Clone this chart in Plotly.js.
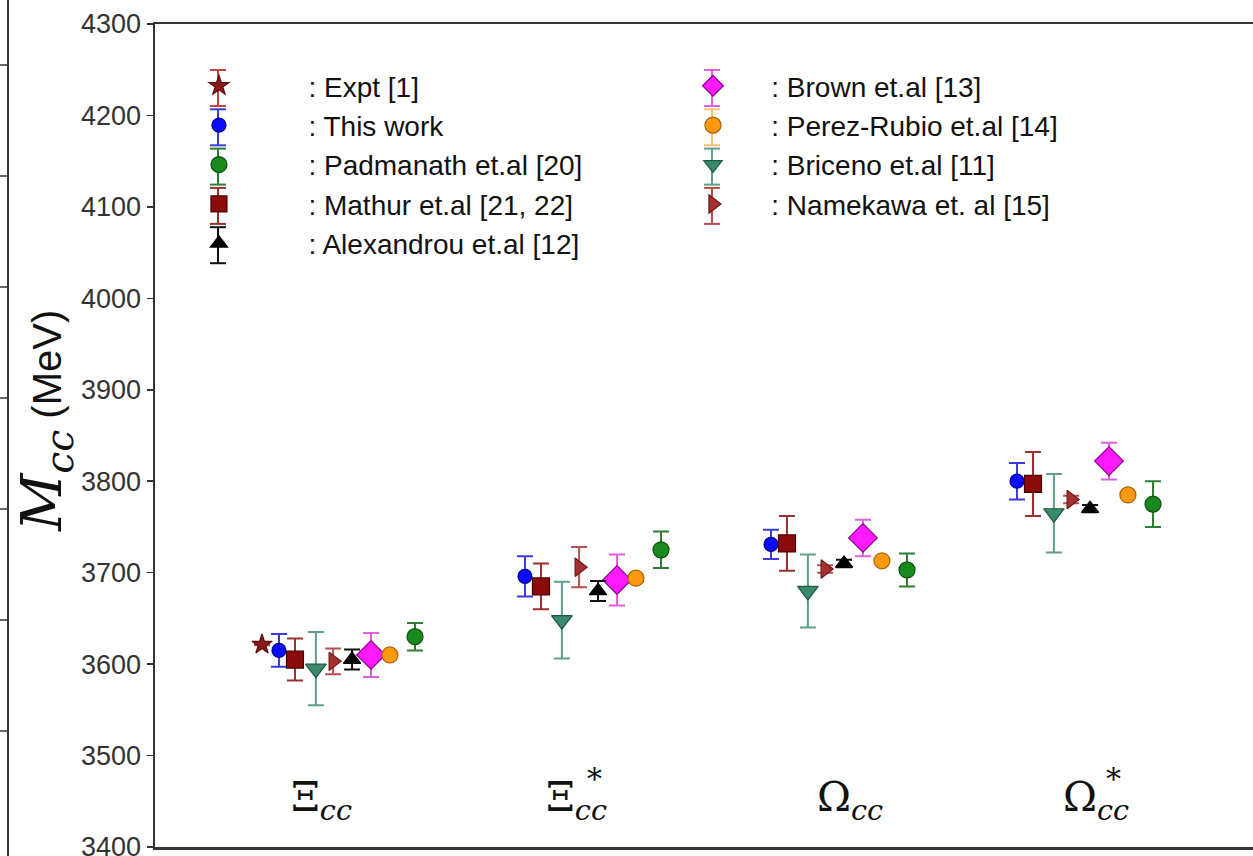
<!DOCTYPE html>
<html>
<head>
<meta charset="utf-8">
<script src="https://cdn.plot.ly/plotly-3.0.1.min.js"></script>
<style>
html, body { margin:0; padding:0; overflow:hidden; background:#fff; }
#chart { width:1259px; height:856px; }
</style>
</head>
<body>
<div id="chart"></div>
<script>
// Groups (baryons) and their tick-label positions
var groupIndex = [0, 1, 2, 3];
var groupBase = ['\u039E', '\u039E', '\u03A9', '\u03A9'];
var groupStar = [false, true, false, true];
var labelPos = [0.675, 1.715, 2.825, 3.825];

// Masses (MeV) and errors for each work
var exptVal = [3621.4];            var exptErr = [0.8];
var thisWorkVal = [3615, 3696, 3731, 3800];   var thisWorkErr = [18, 22, 16, 20];
var padmanathVal = [3630, 3725, 3703, 3775];  var padmanathErr = [15, 20, 18, 25];
var mathurVal = [3605, 3685, 3732, 3797];     var mathurErr = [23, 25, 30, 35];
var alexandrouVal = [3605, 3680, 3710, 3770]; var alexandrouErr = [11, 11, 4, 4];
var brownVal = [3610, 3692, 3738, 3822];      var brownErr = [24, 28, 20, 20];
var perezVal = [3610, 3694, 3713, 3785];      var perezErr = [2, 2, 2, 2];
var bricenoVal = [3595, 3648, 3680, 3765];    var bricenoErr = [40, 42, 40, 43];
var namekawaVal = [3603, 3706, 3704, 3780];   var namekawaErr = [14, 22, 4, 4];

function xs(idx, off) { return idx.map(function (g) { return g + off; }); }
var PAD1 = '\u00A0\u00A0\u00A0\u00A0\u00A0\u00A0\u00A0';
var PAD2 = '\u00A0\u00A0\u00A0';

function series(name, pad, idx, off, vals, errs, symbol, size, fill, edge, ecol) {
  return {
    type: 'scatter', mode: 'markers', name: pad + name,
    x: xs(idx, off), y: vals,
    marker: { symbol: symbol, size: size, color: fill, line: { color: edge, width: 1.2 } },
    error_y: { type: 'data', array: errs, visible: true, color: ecol, thickness: 2, width: 8 },
    hoverinfo: 'x+y'
  };
}

// Order chosen so that the two-column legend reads column-wise like the original
var traces = [
  series(': Expt [1]', PAD1, [0], 0.435, exptVal, exptErr, 'star', 15, '#8b1a1a', '#5a0d0d', '#c84040'),
  series(': Brown et.al [13]', PAD2, groupIndex, 0.878, brownVal, brownErr, 'diamond', 22, '#ff1aff', '#8b008b', '#e060e0'),
  series(': This work', PAD1, groupIndex, 0.504, thisWorkVal, thisWorkErr, 'circle', 14, '#0a0aff', '#00008b', '#3a3adf'),
  series(': Perez-Rubio et.al [14]', PAD2, groupIndex, 0.955, perezVal, perezErr, 'circle', 16, '#ff9a10', '#a86000', '#ffc070'),
  series(': Padmanath et.al [20]', PAD1, groupIndex, 1.057, padmanathVal, padmanathErr, 'circle', 16, '#18891c', '#0b4d0e', '#2e7d32'),
  series(': Briceno et.al [11]', PAD2, groupIndex, 0.654, bricenoVal, bricenoErr, 'triangle-down', 18, '#3a8a6a', '#1f5a44', '#5f9e8a'),
  series(': Mathur et.al [21, 22]', PAD1, groupIndex, 0.569, mathurVal, mathurErr, 'square', 17, '#8b0a0a', '#4d0000', '#9a3030'),
  series(': Namekawa et. al [15]', PAD2, groupIndex, 0.724, namekawaVal, namekawaErr, 'triangle-right', 16, '#a53030', '#6a1a1a', '#b85050'),
  series(': Alexandrou et.al [12]', PAD1, groupIndex, 0.801, alexandrouVal, alexandrouErr, 'triangle-up', 15, '#000000', '#000000', '#111111')
];

var serif = 'DejaVu Serif, Liberation Serif, serif';
var annotations = [];
groupBase.forEach(function (b, i) {
  annotations.push({
    xref: 'x', yref: 'y', x: labelPos[i], y: 3451, text: b + '<sub><i>cc</i></sub>', showarrow: false,
    xanchor: 'center', yanchor: 'middle',
    font: { family: serif, size: 41, color: '#111' }
  });
  if (groupStar[i]) {
    annotations.push({
      xref: 'x', yref: 'y', x: labelPos[i], y: 3451, text: '*', showarrow: false,
      xanchor: 'center', yanchor: 'middle', xshift: 18, yshift: 22,
      font: { family: serif, size: 30, color: '#111' }
    });
  }
});
annotations.push({
  xref: 'paper', yref: 'paper', x: -0.0999, y: 0.5176, textangle: -90,
  text: "<span style='font-family:DejaVu Serif, Liberation Serif, serif;font-size:56px'><i>M</i><sub><i>cc</i></sub></span> (MeV)",
  showarrow: false, xanchor: 'center', yanchor: 'middle',
  font: { family: 'Liberation Sans, Arial, sans-serif', size: 40, color: '#111' }
});

// Fragment of the neighbouring panel's frame on the far left
var shapes = [{
  type: 'line', xref: 'paper', yref: 'paper', x0: -0.1335, x1: -0.1335, y0: -0.011, y1: 1.03,
  line: { color: '#333', width: 2 }
}];
[65, 176, 287, 398, 509, 620, 731].forEach(function (py) {
  var yp = (847 - py) / 823;
  shapes.push({ type: 'line', xref: 'paper', yref: 'paper', x0: -0.1410, x1: -0.1335, y0: yp, y1: yp,
    line: { color: '#333', width: 1.5 } });
});

// Error-bar glyphs behind the legend symbols (legend decoration, as in the original)
var PLOT_W = 1101, PLOT_H = 823;
traces.forEach(function (t, i) {
  var col = i % 2, row = Math.floor(i / 2);
  var cx = 218 + col * 494, cy = 88 + row * 39.3;
  var xp = (cx - 155) / PLOT_W;
  var yTop = (847 - (cy - 18)) / PLOT_H, yBot = (847 - (cy + 18)) / PLOT_H;
  var dx = 8 / PLOT_W;
  var c = t.error_y.color;
  shapes.push({ type: 'line', xref: 'paper', yref: 'paper', x0: xp, x1: xp, y0: yBot, y1: yTop, line: { color: c, width: 2 } });
  shapes.push({ type: 'line', xref: 'paper', yref: 'paper', x0: xp - dx, x1: xp + dx, y0: yTop, y1: yTop, line: { color: c, width: 2 } });
  shapes.push({ type: 'line', xref: 'paper', yref: 'paper', x0: xp - dx, x1: xp + dx, y0: yBot, y1: yBot, line: { color: c, width: 2 } });
});

var layout = {
  width: 1259, height: 856,
  margin: { l: 155, r: 3, t: 24, b: 9 },
  paper_bgcolor: '#fff', plot_bgcolor: '#fff',
  showlegend: true,
  legend: {
    x: 0.0263, y: 0.955, xanchor: 'left', yanchor: 'top',
    orientation: 'h', entrywidth: 419, entrywidthmode: 'pixels', itemwidth: 60,
    font: { family: 'Liberation Sans, Arial, sans-serif', size: 28, color: '#111' },
    bgcolor: 'rgba(0,0,0,0)'
  },
  xaxis: {
    range: [0, 4.4756], showticklabels: false, ticks: '', showgrid: false, zeroline: false,
    showline: true, mirror: true, linewidth: 2.5, linecolor: '#333'
  },
  yaxis: {
    range: [3400, 4300], dtick: 100, tick0: 3400, ticks: 'outside', ticklen: 6, tickwidth: 1.5, tickcolor: '#333',
    tickfont: { family: 'Liberation Sans, Arial, sans-serif', size: 27, color: '#333' },
    ticklabeloverflow: 'allow',
    showgrid: false, zeroline: false, showline: true, mirror: true, linewidth: 2.5, linecolor: '#333'
  },
  yaxis2: {
    overlaying: 'y', side: 'right', range: [3400, 4300], dtick: 100, tick0: 3400,
    ticks: 'inside', ticklen: 9, tickwidth: 1, tickcolor: '#aaa',
    showticklabels: false, showgrid: false, zeroline: false, showline: false
  },
  annotations: annotations,
  shapes: shapes
};

Plotly.newPlot('chart', traces, layout, { displayModeBar: false, staticPlot: true });
</script>
</body>
</html>
